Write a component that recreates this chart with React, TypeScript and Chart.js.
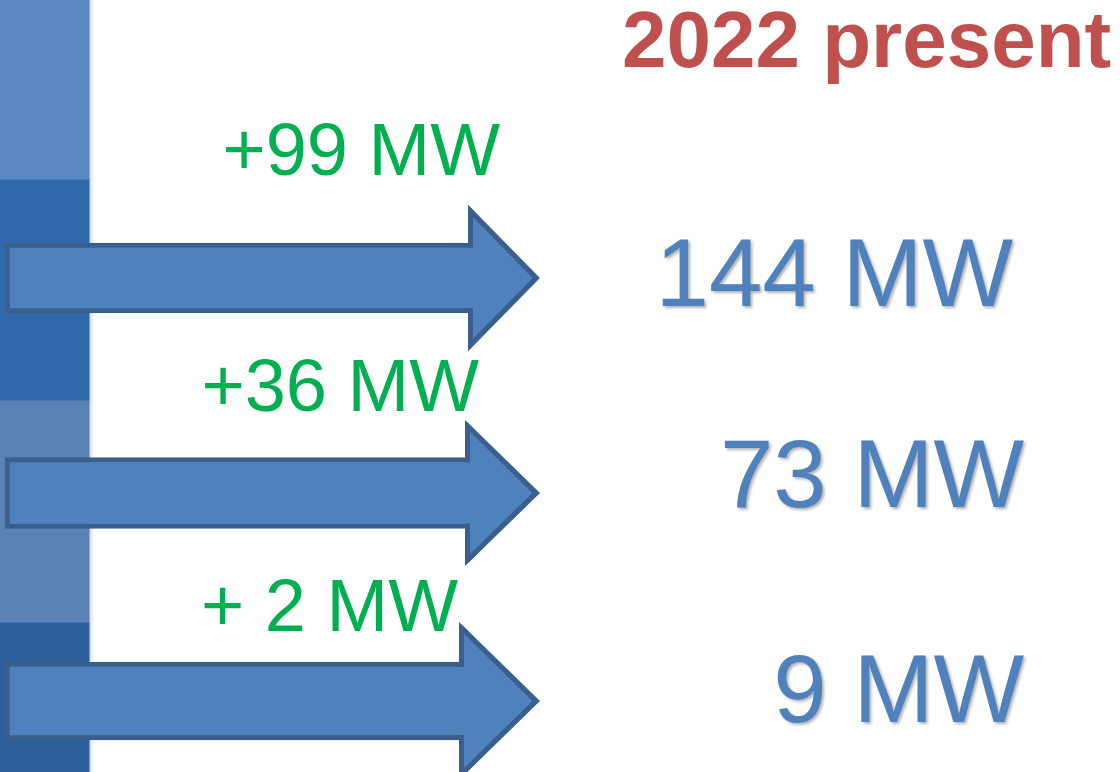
import { useEffect, useRef } from "react";
import { Chart, registerables } from "chart.js";

Chart.register(...registerables);

// ---------------- data ----------------
const titleText = "2022 present";
const gains = [99, 36, 2];
const gainLabels = ["+99 MW", "+36 MW", "+ 2 MW"];
const totals = [144, 73, 9];
const totalLabels = totals.map((v) => `${v} MW`);

// ---------------- layout (pixels in the 1120 x 772 frame) ----------------
const W = 1120;
const H = 772;
const columnBands = [
  [0, 180],
  [180, 401],
  [401, 623],
  [623, 772],
];
const columnColors = ["#5B8AC3", "#3169AD", "#5A82B5", "#2E5F9D"];
const columnCenterX = 44.5;
const columnWidth = 89;

const arrowLeft = 5;
const arrowTip = 540;
const arrowRows = [
  { cy: 278, shaft: 70, half: 71, base: 471 },
  { cy: 493, shaft: 71, half: 71, base: 468 },
  { cy: 701, shaft: 78, half: 77, base: 462 },
];
const arrowFill = "#4F81BD";
const arrowStroke = "#3A5F8C";
const arrowBorder = 5;

const gainPos = [
  { right: 500, baseline: 175 },
  { right: 479, baseline: 411 },
  { right: 458, baseline: 631 },
];
const totalPos = [
  { right: 1013, baseline: 306 },
  { right: 1024, baseline: 507 },
  { right: 1024, baseline: 722 },
];
const titlePos = { left: 622, baseline: 67 };

const FONT = '"Liberation Sans", Arial, sans-serif';

const arrowHeadPlugin = {
  id: "arrowHeads",
  beforeDatasetsDraw(chart: any) {
    // faint shadow to the right of the column
    const { ctx } = chart;
    const xs = chart.scales.x;
    const x0 = xs.getPixelForValue(columnCenterX + columnWidth / 2);
    const g = ctx.createLinearGradient(x0, 0, x0 + 5, 0);
    g.addColorStop(0, "rgba(120,130,160,0.35)");
    g.addColorStop(1, "rgba(120,130,160,0)");
    ctx.save();
    ctx.fillStyle = g;
    ctx.fillRect(x0, 0, 5, chart.height);
    ctx.restore();
  },
  afterDatasetsDraw(chart: any) {
    const { ctx } = chart;
    const xs = chart.scales.x;
    const ys = chart.scales.y;
    arrowRows.forEach((row, i) => {
      const meta = chart.getDatasetMeta(i);
      const el: any = meta.data[0];
      if (!el) return;
      const base = el.x;
      const cy = el.y;
      const sh = el.height / 2;
      const top = ys.getPixelForValue(row.cy - row.half);
      const bot = ys.getPixelForValue(row.cy + row.half);
      const tip = xs.getPixelForValue(arrowTip);
      ctx.save();
      ctx.beginPath();
      ctx.moveTo(base - 1, cy - sh + arrowBorder);
      ctx.lineTo(base - 1, top);
      ctx.lineTo(tip, cy);
      ctx.lineTo(base - 1, bot);
      ctx.lineTo(base - 1, cy + sh - arrowBorder);
      ctx.closePath();
      ctx.fillStyle = arrowFill;
      ctx.fill();
      ctx.beginPath();
      ctx.moveTo(base - 3, cy - sh + arrowBorder / 2);
      ctx.lineTo(base + arrowBorder / 2 - 3, cy - sh + arrowBorder / 2);
      ctx.lineTo(base + arrowBorder / 2 - 3, top + 4);
      ctx.lineTo(tip - 4, cy);
      ctx.lineTo(base + arrowBorder / 2 - 3, bot - 4);
      ctx.lineTo(base + arrowBorder / 2 - 3, cy + sh - arrowBorder / 2);
      ctx.lineTo(base - 3, cy + sh - arrowBorder / 2);
      ctx.lineWidth = arrowBorder;
      ctx.lineJoin = "miter";
      ctx.strokeStyle = arrowStroke;
      ctx.stroke();
      ctx.restore();
    });
  },
  afterDraw(chart: any) {
    const { ctx } = chart;
    ctx.save();
    ctx.textBaseline = "alphabetic";
    // title
    ctx.font = `bold 80px ${FONT}`;
    ctx.fillStyle = "#C0504D";
    ctx.textAlign = "left";
    ctx.fillText(titleText, titlePos.left, titlePos.baseline);
    // gains
    ctx.font = `74px ${FONT}`;
    ctx.fillStyle = "#00B050";
    ctx.textAlign = "right";
    gainLabels.forEach((t, i) => {
      ctx.fillText(t, gainPos[i].right, gainPos[i].baseline);
    });
    // totals with soft shadow
    ctx.font = `96px ${FONT}`;
    ctx.fillStyle = "#4F81BD";
    ctx.shadowColor = "rgba(0,0,0,0.3)";
    ctx.shadowBlur = 3;
    ctx.shadowOffsetX = 2;
    ctx.shadowOffsetY = 2;
    totalLabels.forEach((t, i) => {
      ctx.fillText(t, totalPos[i].right, totalPos[i].baseline);
    });
    ctx.restore();
  },
};

export default function App() {
  const ref = useRef<HTMLCanvasElement | null>(null);

  useEffect(() => {
    if (!ref.current) return;
    const arrowDatasets = arrowRows.map((row, i) => ({
      type: "bar" as const,
      label: gainLabels[i],
      indexAxis: "y" as const,
      data: [{ x: [arrowLeft, row.base], y: row.cy, gain: gains[i] }],
      backgroundColor: arrowFill,
      borderColor: arrowStroke,
      borderWidth: arrowBorder,
      borderSkipped: "right",
      barThickness: row.shaft,
      grouped: false,
      order: 0,
    }));
    const columnDataset = {
      type: "bar" as const,
      label: "column",
      indexAxis: "x" as const,
      data: columnBands.map((b) => ({ x: columnCenterX, y: b })),
      backgroundColor: columnColors,
      borderWidth: 0,
      barThickness: columnWidth,
      grouped: false,
      inflateAmount: 0.5,
      order: 5,
    };
    const chart = new Chart(ref.current, {
      type: "bar",
      data: { datasets: [...arrowDatasets, columnDataset] as any },
      options: {
        animation: false,
        responsive: false,
        clip: false,
        layout: { padding: 0 },
        plugins: { legend: { display: false }, tooltip: { enabled: false } },
        scales: {
          x: { type: "linear", min: 0, max: W, offset: false, grace: 0, display: false },
          y: { type: "linear", min: 0, max: H, reverse: true, offset: false, grace: 0, display: false },
        },
      } as any,
      plugins: [arrowHeadPlugin],
    });
    return () => chart.destroy();
  }, []);

  return (
    <div style={{ position: "fixed", left: 0, top: 0, width: W, height: H, background: "#fff" }}>
      <canvas ref={ref} width={W} height={H} style={{ display: "block" }} />
    </div>
  );
}
